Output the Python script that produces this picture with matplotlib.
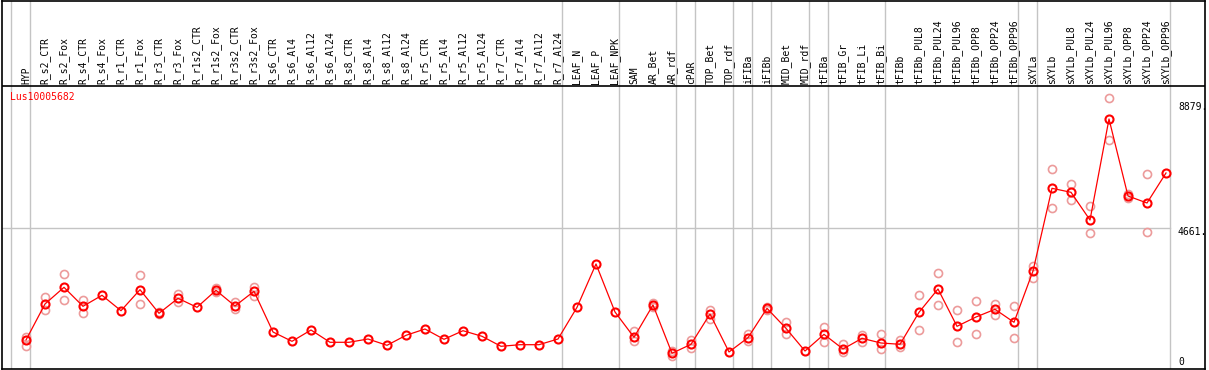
import matplotlib
matplotlib.use("Agg")
import matplotlib.pyplot as plt

samples = ["HYP", "R_s2_CTR", "R_s2_Fox", "R_s4_CTR", "R_s4_Fox", "R_r1_CTR", "R_r1_Fox",
           "R_r3_CTR", "R_r3_Fox", "R_r1s2_CTR", "R_r1s2_Fox", "R_r3s2_CTR", "R_r3s2_Fox",
           "R_s6_CTR", "R_s6_Al4", "R_s6_Al12", "R_s6_Al24", "R_s8_CTR", "R_s8_Al4",
           "R_s8_Al12", "R_s8_Al24", "R_r5_CTR", "R_r5_Al4", "R_r5_Al12", "R_r5_Al24",
           "R_r7_CTR", "R_r7_Al4", "R_r7_Al12", "R_r7_Al24", "LEAF_N", "LEAF_P", "LEAF_NPK",
           "SAM", "AR_Bet", "AR_rdf", "cPAR", "TOP_Bet", "TOP_rdf", "iFIBa", "iFIBb",
           "MID_Bet", "MID_rdf", "tFIBa", "tFIB_Gr", "tFIB_Li", "tFIB_Bi", "tFIBb",
           "tFIBb_PUL8", "tFIBb_PUL24", "tFIBb_PUL96", "tFIBb_OPP8", "tFIBb_OPP24",
           "tFIBb_OPP96", "sXYLa", "sXYLb", "sXYLb_PUL8", "sXYLb_PUL24", "sXYLb_PUL96",
           "sXYLb_OPP8", "sXYLb_OPP24", "sXYLb_OPP96"]

means = [767, 2022, 2603, 1941, 2325, 1788, 2521, 1697, 2220, 1906, 2499, 1952, 2464,
         1046, 721, 1115, 687, 687, 802, 582, 930, 1150, 791, 1091, 896, 547, 603, 603, 802,
         1906, 3416, 1743, 861, 1987, 303, 617, 1673, 349, 848, 1871, 1173, 383, 964, 453,
         825, 662, 617, 1732, 2544, 1244, 1568, 1837, 1384, 3172, 6054, 5915, 4949, 8470,
         5786, 5542, 6588]

# replicate values (sample index, value)
rep_idx = [0, 0, 1, 1, 2, 2, 3, 3, 6, 6, 7, 7, 8, 8, 10, 10, 11, 11, 12, 12,
           32, 32, 33, 33, 34, 34, 35, 35, 36, 36, 38, 38, 39, 39, 40, 40, 42, 42, 43, 43,
           44, 44, 45, 45, 46, 46, 47, 47, 48, 48, 49, 49, 50, 50, 51, 51, 52, 52, 53, 53,
           54, 54, 55, 55, 56, 56, 57, 57, 58, 58, 59, 59]
rep_val = [882, 568, 2255, 1802, 3057, 2150, 2161, 1697, 3022, 2022, 1730, 1660, 2360, 2091,
           2590, 2440, 2091, 1836, 2626, 2300,
           1081, 732, 2040, 1930, 394, 209, 756, 488, 1812, 1510, 964, 732, 1930, 1820,
           1406, 964, 1208, 709, 627, 337,
           952, 697, 964, 453, 767, 533, 2335, 1115, 3102, 1976, 1812, 687, 2126, 964,
           2022, 1628, 1941, 837, 3357, 2917,
           6727, 5357, 6204, 5647, 5437, 4486, 9202, 7727, 5850, 5730, 6542, 4521]

separators = [-1, 0, 28, 31, 34, 35, 37, 38, 39, 41, 42, 45, 52, 53, 60]
ytick_vals = [0, 4661, 8879]
ytick_text = ["0", "4661.", "8879."]
gene = "Lus10005682"

W, H = 1209, 370
fig = plt.figure(figsize=(W / 100, H / 100), dpi=100)

# pixel-based geometry
px0, px1 = 1.5, 1205.0
py_top, py_bot = 0.5, 369.0
x_of0, x_step = 26.0, 19.0
y_zero, y_scale = 362.0, 0.02869

ax = fig.add_axes([px0 / W, (H - py_bot) / H, (px1 - px0) / W, (py_bot - py_top) / H])
ax.set_xlim((px0 - x_of0) / x_step, (px1 - x_of0) / x_step)
ax.set_ylim((y_zero - py_bot) / y_scale, (y_zero - py_top) / y_scale)
for s in ax.spines.values():
    s.set_color("black")
    s.set_linewidth(1.2)
ax.set_xticks([])
ax.set_yticks([])

header_v = (y_zero - 85.7) / y_scale
off = 4.0 / x_step
last_x = separators[-1] + off

for sep in separators:
    ax.axvline(sep + off, color="#c4c4c4", lw=1.0, zorder=1)
ax.plot([ax.get_xlim()[0], last_x], [ytick_vals[1], ytick_vals[1]], color="#c4c4c4", lw=1.0, zorder=1)
ax.axhline(header_v, color="black", lw=1.2, zorder=2)

mono = "DejaVu Sans Mono"
xs = list(range(len(samples)))
for i, name in enumerate(samples):
    ax.annotate(name, (i, header_v), xytext=(0, 2), textcoords="offset pixels",
                rotation=90, ha="center", va="bottom", fontsize=7, family=mono,
                color="black")

ax.plot(rep_idx, rep_val, linestyle="none", marker="o", ms=5.8, mfc="none",
        mec="#ec9b9b", mew=1.2, zorder=3)
ax.plot(xs, means, color="red", lw=0.9, marker="o", ms=5.8, mfc="none", mec="red",
        mew=1.5, zorder=4)

ax.text((10 - x_of0) / x_step, (y_zero - 97.5) / y_scale, gene,
        color="red", fontsize=7, family=mono, ha="left", va="center")

offsets = [0, -4, 0]
for v, t, o in zip(ytick_vals, ytick_text, offsets):
    ax.annotate(t, ((1178 - x_of0) / x_step, v), xytext=(0, o), textcoords="offset pixels",
                ha="left", va="center", fontsize=7, family=mono, color="black")

fig.savefig("out.png", dpi=100)
